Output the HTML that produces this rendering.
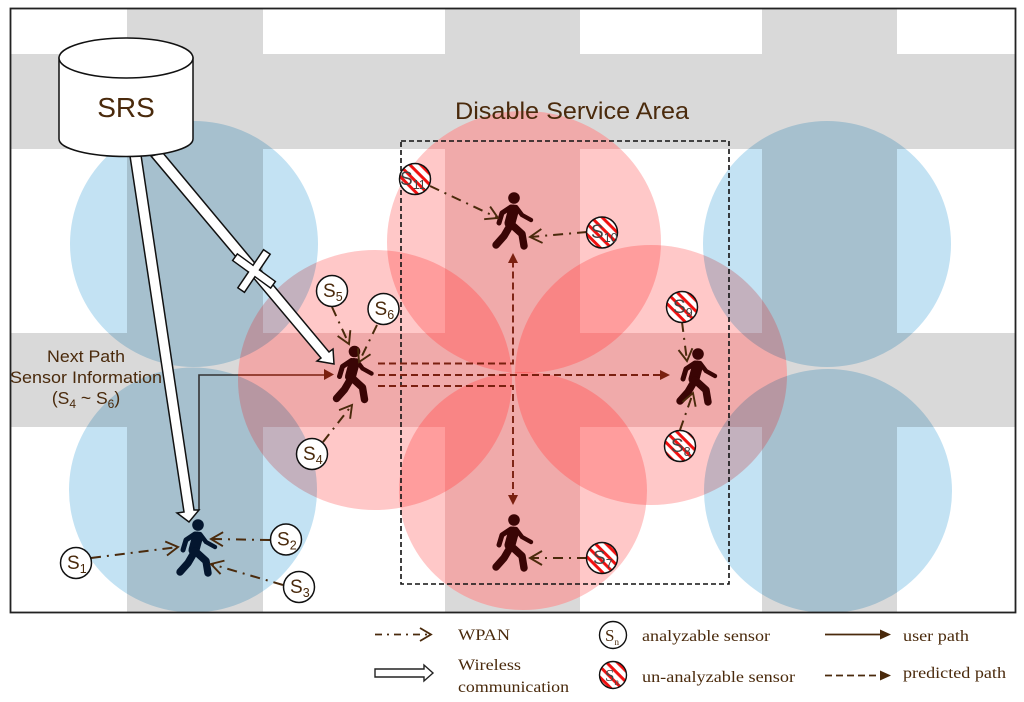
<!DOCTYPE html>
<html><head><meta charset="utf-8"><style>
html,body{margin:0;padding:0;background:#fff;width:1024px;height:702px;overflow:hidden}
svg{display:block;filter:blur(.35px)}
text{font-family:"Liberation Sans",sans-serif;fill:#4a2a0c}
.l{font-family:"Liberation Serif",serif;font-size:16px}
.s{font-size:19px}
.s tspan{font-size:12.5px}
.w{fill:none;stroke:#4a2a0c;stroke-width:2;stroke-dasharray:10 6 2 6}
.pd{fill:none;stroke:#7a2010;stroke-width:1.9;stroke-dasharray:7 4}
.rs{fill:rgb(153,0,0);mix-blend-mode:screen}
.rm{fill:rgb(255,200,200);mix-blend-mode:multiply}
.bm{fill:rgb(195,226,243);mix-blend-mode:multiply}
</style></head><body>
<svg width="1024" height="702" viewBox="0 0 1024 702" xmlns="http://www.w3.org/2000/svg">
<defs>
<pattern id="st" width="7.6" height="7.6" patternUnits="userSpaceOnUse" patternTransform="rotate(45)">
<rect width="7.6" height="7.6" fill="#fff"/><rect width="7.6" height="3" fill="#f01010"/>
</pattern>
<marker id="o" markerUnits="userSpaceOnUse" markerWidth="18" markerHeight="18" refX="14" refY="9" orient="auto">
<polyline points="2,2 14,9 2,16" fill="none" stroke="#4a2a0c" stroke-width="1.9"/>
</marker>
<g id="walk" fill="none" stroke-linecap="round" stroke-linejoin="round">
<circle cx="0" cy="0" r="5.8" fill="currentColor"/>
<path d="M-3,9 L-12,15 L-15,25" stroke="currentColor" stroke-width="5"/>
<path d="M2,9 L8,17 L17,22" stroke="currentColor" stroke-width="4.4"/>
<path d="M-0.5,12 L-4,25" stroke="currentColor" stroke-width="11"/>
<path d="M-3,26 L-10,38 L-18,47" stroke="currentColor" stroke-width="7.4"/>
<path d="M-3,26 L8,36 L10,48" stroke="currentColor" stroke-width="7.4"/>
</g>
</defs>
<rect width="1024" height="702" fill="#fff"/>

<!-- roads -->
<g fill="#d9d9d9">
<rect x="127" y="9" width="136" height="603"/>
<rect x="445" y="9" width="135" height="603"/>
<rect x="762" y="9" width="135" height="603"/>
<rect x="11" y="54" width="1004" height="95"/>
<rect x="11" y="333" width="1004" height="94"/>
</g>

<!-- red cells -->
<ellipse class="rs" cx="524" cy="242" rx="137" ry="131"/><ellipse class="rm" cx="524" cy="242" rx="137" ry="131"/>
<ellipse class="rs" cx="523" cy="491" rx="124" ry="119"/><ellipse class="rm" cx="523" cy="491" rx="124" ry="119"/>
<ellipse class="rs" cx="375" cy="380" rx="137" ry="130"/><ellipse class="rm" cx="375" cy="380" rx="137" ry="130"/>
<ellipse class="rs" cx="651" cy="375" rx="136" ry="130"/><ellipse class="rm" cx="651" cy="375" rx="136" ry="130"/>

<!-- blue cells -->
<ellipse class="bm" cx="194" cy="244" rx="124" ry="123"/>
<ellipse class="bm" cx="193" cy="490" rx="124" ry="122.5"/>
<ellipse class="bm" cx="827" cy="244" rx="124" ry="123"/>
<ellipse class="bm" cx="828" cy="491" rx="124" ry="122"/>

<rect x="10.5" y="8.5" width="1005" height="604" fill="none" stroke="#222" stroke-width="1.8"/>

<rect x="401" y="141" width="328" height="443" fill="none" stroke="#111" stroke-width="1.6" stroke-dasharray="5 3"/>
<text x="455" y="119" font-size="24" textLength="234" lengthAdjust="spacingAndGlyphs">Disable Service Area</text>

<!-- labels left -->
<text x="47" y="362" font-size="17" textLength="78" lengthAdjust="spacingAndGlyphs">Next Path</text>
<text x="10" y="383" font-size="17" textLength="152" lengthAdjust="spacingAndGlyphs">Sensor Information</text>
<text x="86" y="404" font-size="17.5" text-anchor="middle">(S<tspan font-size="12" dy="4">4</tspan><tspan dy="-4"> ~ S</tspan><tspan font-size="12" dy="4">6</tspan><tspan dy="-4">)</tspan></text>

<!-- user path -->
<path d="M199,510 V375 H238" fill="none" stroke="#333" stroke-width="1.6"/>
<path d="M238,375 H326" fill="none" stroke="#7a2010" stroke-width="1.6"/>
<polygon points="334,374.5 324,369 324,380" fill="#7a2010"/>

<!-- predicted -->
<path class="pd" d="M378,363.5 H513 V262"/>
<path class="pd" d="M378,386 H513 V496"/>
<path class="pd" d="M378,375 H661"/>
<polygon points="513,253 508,263 518,263" fill="#7a2010"/>
<polygon points="513,505 508,495 518,495" fill="#7a2010"/>
<polygon points="670,375 660,370 660,380" fill="#7a2010"/>

<!-- walkers -->
<use href="#walk" x="198" y="525" color="#04162f"/>
<use href="#walk" x="354.500" y="351.500" color="#3a0505"/>
<use href="#walk" x="514" y="198" color="#3a0505"/>
<use href="#walk" x="698" y="354" color="#3a0505"/>
<use href="#walk" x="514" y="520" color="#3a0505"/>

<!-- wpan arrows -->
<g>
<line class="w" x1="91" y1="558" x2="178" y2="547" marker-end="url(#o)"/>
<line class="w" x1="270" y1="540" x2="211" y2="539" marker-end="url(#o)"/>
<line class="w" x1="283" y1="585" x2="211" y2="564" marker-end="url(#o)"/>
<line class="w" x1="323" y1="442" x2="352" y2="405" marker-end="url(#o)"/>
<line class="w" x1="332" y1="307" x2="349" y2="344" marker-end="url(#o)"/>
<line class="w" x1="377" y1="325" x2="359" y2="362" marker-end="url(#o)"/>
<line class="w" x1="430" y1="186" x2="498" y2="218" marker-end="url(#o)"/>
<line class="w" x1="587" y1="232" x2="530" y2="237" marker-end="url(#o)"/>
<line class="w" x1="682" y1="322" x2="687" y2="361" marker-end="url(#o)"/>
<line class="w" x1="680" y1="430" x2="693" y2="393" marker-end="url(#o)"/>
<line class="w" x1="587" y1="558" x2="530" y2="558" marker-end="url(#o)"/>
</g>

<!-- wireless arrows -->
<g fill="#fff" stroke="#111" stroke-width="1.5" stroke-linejoin="miter">
<polygon points="130,156 141,155 194,510 199,510 189,522 177,513 184,512"/>
<polygon points="151,156 163,153 329,352 333,349 334,364 317,361 321,358"/>
<rect x="230.500" y="267" width="47" height="8" transform="rotate(36 254 271)"/>
<rect x="231" y="267" width="46" height="8" transform="rotate(-56 254 271)"/>
<rect x="231.500" y="267.700" width="45" height="6.600" transform="rotate(36 254 271)" stroke="none"/>
</g>

<!-- cylinder -->
<path d="M59,58 V139 C59,149 90,156.500 126,156.500 C162,156.500 193,149 193,139 V58 Z" fill="#fff" stroke="#111" stroke-width="1.5"/>
<ellipse cx="126" cy="58" rx="67" ry="20" fill="#fff" stroke="#111" stroke-width="1.5"/>
<text x="126" y="117" font-size="28" text-anchor="middle">SRS</text>

<!-- analyzable sensors -->
<g fill="#fff" stroke="#111" stroke-width="1.5">
<circle cx="76" cy="563" r="15.500"/>
<circle cx="286" cy="539.500" r="15.500"/>
<circle cx="299" cy="587" r="15.500"/>
<circle cx="312" cy="454" r="15.500"/>
<circle cx="332" cy="291" r="15.500"/>
<circle cx="383.500" cy="309" r="15.500"/>
</g>
<text class="s" x="67" y="569">S<tspan dy="4">1</tspan></text>
<text class="s" x="277" y="545.500">S<tspan dy="4">2</tspan></text>
<text class="s" x="290" y="593">S<tspan dy="4">3</tspan></text>
<text class="s" x="303" y="460">S<tspan dy="4">4</tspan></text>
<text class="s" x="323" y="297">S<tspan dy="4">5</tspan></text>
<text class="s" x="374.500" y="315">S<tspan dy="4">6</tspan></text>

<!-- unanalyzable sensors -->
<g fill="url(#st)" stroke="#111" stroke-width="1.5">
<circle cx="415" cy="179" r="15.500"/>
<circle cx="602" cy="232.500" r="15.500"/>
<circle cx="682" cy="307" r="15.500"/>
<circle cx="680" cy="446" r="15.500"/>
<circle cx="602" cy="558" r="15.500"/>
</g>
<text class="s" x="400" y="185" style="fill:#444">S<tspan dy="4">11</tspan></text>
<text class="s" x="591" y="238" style="fill:#444">S<tspan dy="4">10</tspan></text>
<text class="s" x="673" y="313" style="fill:#444">S<tspan dy="4">9</tspan></text>
<text class="s" x="671" y="452" style="fill:#444">S<tspan dy="4">8</tspan></text>
<text class="s" x="593" y="564" style="fill:#444">S<tspan dy="4">7</tspan></text>

<!-- legend -->
<path d="M375,634.500 H428" fill="none" stroke="#4a2a0c" stroke-width="1.8" stroke-dasharray="7 5 2 5"/>
<polyline points="420,628 431,634.500 420,641" fill="none" stroke="#4a2a0c" stroke-width="1.8"/>
<polygon points="375,669 424,669 424,665 433,673 424,681 424,677 375,677" fill="#fff" stroke="#222" stroke-width="1.4"/>
<text class="l" x="458" y="640" textLength="52" lengthAdjust="spacingAndGlyphs">WPAN</text>
<text class="l" x="458" y="670" textLength="63" lengthAdjust="spacingAndGlyphs">Wireless</text>
<text class="l" x="458" y="692" textLength="111" lengthAdjust="spacingAndGlyphs">communication</text>

<circle cx="613" cy="635" r="13.500" fill="#fff" stroke="#111" stroke-width="1.4"/>
<text x="605" y="641" font-size="17" style="font-family:'Liberation Serif',serif">S<tspan font-size="9" dy="4">n</tspan></text>
<circle cx="613" cy="675" r="13.500" fill="url(#st)" stroke="#111" stroke-width="1.4"/>
<text x="605" y="681" font-size="17" style="font-family:'Liberation Serif',serif;fill:#444">S<tspan font-size="9" dy="4">n</tspan></text>
<text class="l" x="642" y="641" textLength="128" lengthAdjust="spacingAndGlyphs">analyzable sensor</text>
<text class="l" x="642" y="682" textLength="153" lengthAdjust="spacingAndGlyphs">un-analyzable sensor</text>

<line x1="825" y1="634.500" x2="881" y2="634.500" stroke="#4a2a0c" stroke-width="1.8"/>
<polygon points="891,634.500 880,629.500 880,639.500" fill="#4a2a0c"/>
<line x1="825" y1="675.500" x2="881" y2="675.500" stroke="#4a2a0c" stroke-width="1.8" stroke-dasharray="7 4"/>
<polygon points="891,675.500 880,670.500 880,680.500" fill="#4a2a0c"/>
<text class="l" x="903" y="641" textLength="66" lengthAdjust="spacingAndGlyphs">user path</text>
<text class="l" x="903" y="678" textLength="103" lengthAdjust="spacingAndGlyphs">predicted path</text>
</svg>
</body></html>
